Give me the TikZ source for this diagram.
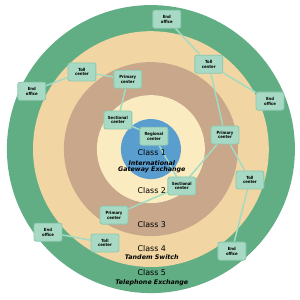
\documentclass[tikz,border=0pt]{standalone}
\usepackage{fontspec}
\setmainfont{DejaVu Sans}
\newfontfamily\condfont{DejaVu Sans Condensed}
\usetikzlibrary{backgrounds}
\definecolor{ringfive}{HTML}{62AE84}
\definecolor{ringfour}{HTML}{F1D6A4}
\definecolor{ringthree}{HTML}{C8A78A}
\definecolor{ringtwo}{HTML}{FBEBC0}
\definecolor{ringone}{HTML}{5A9ED0}
\definecolor{boxfill}{HTML}{A8D9C4}
\definecolor{boxline}{HTML}{8CC9B0}
\definecolor{linkgreen}{HTML}{A2DBC2}

\begin{document}
\begin{tikzpicture}[
  office/.style={draw=boxline,fill=boxfill,line width=0.8pt,rounded corners=2pt,align=center,
    minimum width=0.93cm,minimum height=0.6cm,inner sep=1pt,
    font=\condfont\bfseries\fontsize{4}{4.6}\selectfont},
  link/.style={draw=linkgreen,line width=1.4pt},
  classlbl/.style={font=\fontsize{7.5}{8}\selectfont},
  sublbl/.style={font=\itshape\bfseries\fontsize{6}{7}\selectfont}
]
\useasboundingbox (-5.03,-5.03) rectangle (4.97,4.97);
% offices
\node[office] (eotop) at (0.53,4.33) {End\\office};
\node[office] (tolltr) at (1.93,2.83) {Toll\\center};
\node[office] (eoright) at (3.97,1.6) {End\\office};
\node[office] (primr) at (2.47,0.47) {Primary\\center};
\node[office] (tolltl) at (-2.3,2.57) {Toll\\center};
\node[office] (primtl) at (-0.77,2.33) {Primary\\center};
\node[office] (eoleft) at (-3.97,1.93) {End\\office};
\node[office] (secttl) at (-1.1,0.97) {Sectional\\center};
\node[office] (regional) at (0.1,0.43) {Regional\\center};
\node[office] (sectbr) at (1.03,-1.23) {Sectional\\center};
\node[office] (tollr) at (3.3,-1.03) {Toll\\center};
\node[office] (eobr) at (2.7,-3.4) {End\\office};
\node[office] (primbl) at (-1.23,-2.2) {Primary\\center};
\node[office] (tollbl) at (-1.53,-3.13) {Toll\\center};
\node[office] (eobl) at (-3.43,-2.77) {End\\office};
% class labels
\node[classlbl] (c1) at (0.03,-0.1) {Class 1};
\node[sublbl] (c1a) at (0.03,-0.47) {International};
\node[sublbl] (c1b) at (0.03,-0.7) {Gateway Exchange};
\node[classlbl] (c2) at (0.03,-1.37) {Class 2};
\node[classlbl] (c3) at (0.03,-2.5) {Class 3};
\node[classlbl] (c4) at (0.03,-3.3) {Class 4};
\node[sublbl] (c4a) at (0.03,-3.6) {Tandem Switch};
\node[classlbl] (c5) at (0.03,-4.13) {Class 5};
\node[sublbl] (c5a) at (0.03,-4.47) {Telephone Exchange};
\begin{pgfonlayer}{background}
  \fill[ringfive] (0,0) circle (4.8);
  \fill[ringfour] (0,0) circle (3.93);
  \fill[ringthree] (0,0) circle (2.9);
  \fill[ringtwo] (0,0) circle (1.8);
  \fill[ringone] (0,0) circle (1.0);
  \draw[link] (regional) -- (secttl);
  \draw[link] (regional) -- (sectbr);
  \draw[link] (secttl) -- (primtl);
  \draw[link] (primtl) -- (tolltl);
  \draw[link] (tolltl) -- (eoleft);
  \draw[link] (sectbr) -- (primr);
  \draw[link] (sectbr) -- (primbl);
  \draw[link] (primr) -- (tolltr);
  \draw[link] (primr) -- (tollr);
  \draw[link] (tolltr) -- (eotop);
  \draw[link] (tolltr) -- (eoright);
  \draw[link] (tollr) -- (eobr);
  \draw[link] (tollbl) -- (eobl);
\end{pgfonlayer}
\end{tikzpicture}
\end{document}
